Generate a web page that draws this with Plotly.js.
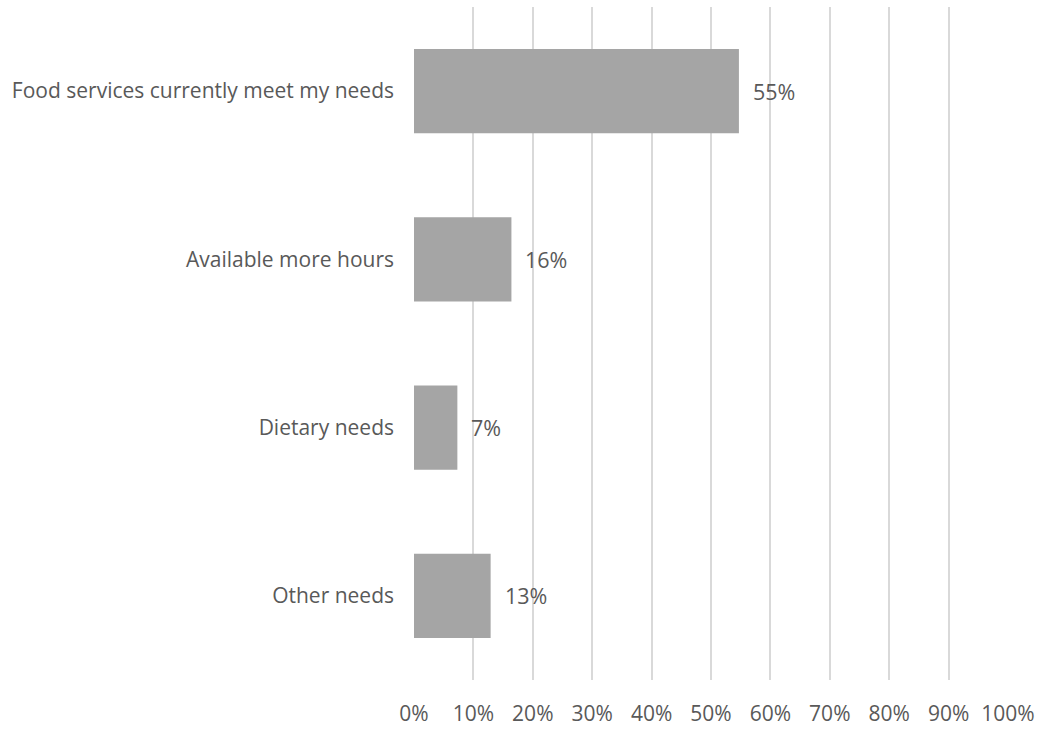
<!DOCTYPE html>
<html>
<head>
<meta charset="utf-8">
<script src="https://cdn.plot.ly/plotly-3.0.1.min.js"></script>
<style>html,body{margin:0;padding:0;background:#fff;}#chart{width:1041px;height:729px;}</style>
</head>
<body>
<div id="chart"></div>
<script>
const categories = ["Food services currently meet my needs", "Available more hours", "Dietary needs", "Other needs"];
const values = [0.547, 0.164, 0.073, 0.129];
const tickVals = [0, 0.1, 0.2, 0.3, 0.4, 0.5, 0.6, 0.7, 0.8, 0.9, 1.0];
const tickText = ["0%", "10%", "20%", "30%", "40%", "50%", "60%", "70%", "80%", "90%", "100%"];

const labels = values.map(v => Math.round(v * 100) + "%");
const FONT = "Open Sans, sans-serif";
const TXT = "#595959";

const trace = {
  type: "bar",
  orientation: "h",
  y: categories,
  x: values,
  marker: {color: "#a5a5a5"},
  hoverinfo: "none"
};

const annotations = categories.map((c, i) => ({
  x: values[i], y: c, xref: "x", yref: "y",
  text: labels[i], showarrow: false, xanchor: "left", yanchor: "middle",
  xshift: 12, font: {family: FONT, size: 21.5, color: TXT}
}));

const layout = {
  width: 1041, height: 729,
  margin: {l: 414, r: 33, t: 7, b: 49},
  paper_bgcolor: "#fff", plot_bgcolor: "#fff",
  showlegend: false,
  bargap: 0.5,
  font: {family: FONT, size: 21, color: TXT},
  xaxis: {
    range: [0, 1.0], tickvals: tickVals, ticktext: tickText,
    showgrid: true, gridcolor: "#d9d9d9", gridwidth: 2,
    zeroline: false, showline: false, ticks: "",
    ticklabelstandoff: 19, fixedrange: true,
    tickfont: {family: FONT, size: 21, color: TXT}
  },
  yaxis: {
    autorange: "reversed", showgrid: false, zeroline: false, showline: false,
    ticks: "", ticklabelstandoff: 19,
    tickfont: {family: FONT, size: 21, color: TXT}
  },
  annotations: annotations
};

Plotly.newPlot("chart", [trace], layout, {displayModeBar: false, staticPlot: true});
</script>
</body>
</html>
